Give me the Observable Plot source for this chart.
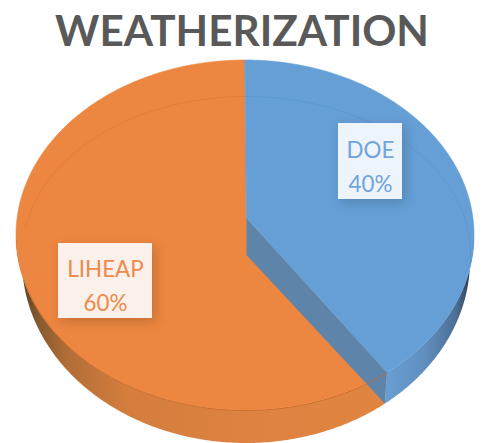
<!DOCTYPE html>
<html>
<head>
<meta charset="utf-8">
<style>html,body{margin:0;padding:0;background:#fff}svg{display:block}</style>
<script src="https://cdn.jsdelivr.net/npm/d3@7"></script>
<script src="https://cdn.jsdelivr.net/npm/@observablehq/plot@0.6"></script>
</head>
<body>
<script>
const titleText = "WEATHERIZATION";
const categories = ["DOE", "LIHEAP"];
const shares = [40, 60];

// Layout of the tilted pie (pixel units of the plot's identity scales)
const topE = {cx: 245, cy: 235, rx: 229, ry: 175};
const botE = {cx: 246, cy: 260, rx: 224, ry: 183};
const ringE = {cx: 246, cy: 253, rx: 224, ry: 157};
const apexTop = {x: 246.5, y: 218};
const apexBot = {x: 246.5, y: 255};
const perspective = 0.984;
const labelBoxes = [
  {cx: 370, cy: 161, hw: 32, hh: 38, ty: 164, face: "#eef4fb", ink: "#6fa5dc"},
  {cx: 105, cy: 280.5, hw: 47, hh: 37.5, ty: 283, face: "#fcf1ea", ink: "#ee8a4c"}
];

const total = d3.sum(shares);
const tip = shares[0] / total * 2 * Math.PI * perspective;
const samples = (a, b) => d3.range(0, 181).map(i => a + (b - a) * i / 180);
const ex = (e, t) => e.cx + e.rx * Math.sin(t);
const ey = (e, t) => e.cy - e.ry * Math.cos(t);

const faceArea = (a, b, fill) => Plot.area(samples(a, b), {
  x1: () => apexTop.x, y1: () => apexTop.y,
  x2: t => ex(topE, t), y2: t => ey(topE, t),
  fill, stroke: fill, strokeWidth: 0.6
});
const sideArea = (a, b, fill) => Plot.area(samples(a, b), {
  x1: t => ex(topE, t), y1: t => ey(topE, t),
  x2: t => ex(botE, t), y2: t => ey(botE, t),
  fill
});
const arcLine = (e, a, b, stroke, strokeOpacity, strokeWidth) => Plot.line(samples(a, b), {
  x: t => ex(e, t), y: t => ey(e, t), stroke, strokeOpacity, strokeWidth
});

const wall = [
  {x1: apexTop.x, y1: apexTop.y, x2: apexBot.x, y2: apexBot.y},
  {x1: ex(topE, tip), y1: ey(topE, tip), x2: ex(botE, tip), y2: ey(botE, tip)}
];

const gradients = () => d3.create("svg:defs").html(`
  <linearGradient id="sideOrange" x1="0" x2="1" y1="0" y2="0">
    <stop offset="0" stop-color="#4f3822"/>
    <stop offset="0.06" stop-color="#85592f"/>
    <stop offset="0.14" stop-color="#b36e36"/>
    <stop offset="0.3" stop-color="#d47d3d"/>
    <stop offset="0.6" stop-color="#dd8240"/>
    <stop offset="1" stop-color="#e08541"/>
  </linearGradient>
  <linearGradient id="sideBlue" x1="0" x2="1" y1="0" y2="0">
    <stop offset="0" stop-color="#6a9fd3"/>
    <stop offset="0.45" stop-color="#5f8fbf"/>
    <stop offset="0.8" stop-color="#4d6f94"/>
    <stop offset="0.93" stop-color="#33485f"/>
    <stop offset="1" stop-color="#2a3643"/>
  </linearGradient>`).node();

const plot = Plot.plot({
  width: 481,
  height: 443,
  margin: 0,
  x: {domain: [0, 481], range: [0, 481], axis: null},
  y: {domain: [0, 443], range: [0, 443], axis: null},
  style: {background: "#fff"},
  marks: [
    gradients,
    Plot.text([titleText], {
      x: () => 241.5, y: () => 32, text: d => d,
      fontFamily: "Lato", fontWeight: 700, fontSize: 42.3, fill: "#595959", textAnchor: "middle"
    }),
    sideArea(tip, 1.5 * Math.PI, "url(#sideOrange)"),
    sideArea(Math.PI / 2, tip, "url(#sideBlue)"),
    faceArea(tip, 2 * Math.PI, "#ec8640"),
    Plot.area(wall, {x1: "x1", y1: "y1", x2: "x2", y2: "y2", fill: "#5e84a9"}),
    arcLine(topE, tip, 1.42 * Math.PI, "#c4682a", 0.75, 1),
    faceArea(0, tip, "#659fd6"),
    arcLine(ringE, 1.55 * Math.PI, 2 * Math.PI, "#d9712a", 0.4, 1),
    arcLine(ringE, 0, Math.PI * 0.52, "#4f8bc8", 0.4, 1),
    Plot.line(wall.slice(1), {x: "x1", y: "y1", stroke: "#6aa3da", strokeWidth: 1}),
    Plot.rect(labelBoxes, {
      x1: d => d.cx - d.hw, x2: d => d.cx + d.hw,
      y1: d => d.cy - d.hh, y2: d => d.cy + d.hh,
      fill: "face", imageFilter: "drop-shadow(3px 4px 6px rgba(0,0,0,.16))"
    }),
    Plot.text(labelBoxes, {
      x: "cx", y: "ty",
      text: (d, i) => `${categories[i]}\n${shares[i]}%`,
      fontFamily: "Lato", fontSize: 22.4, lineHeight: 1.5, fill: "ink", textAnchor: "middle"
    })
  ]
});
document.body.appendChild(plot);
</script>
</body>
</html>
